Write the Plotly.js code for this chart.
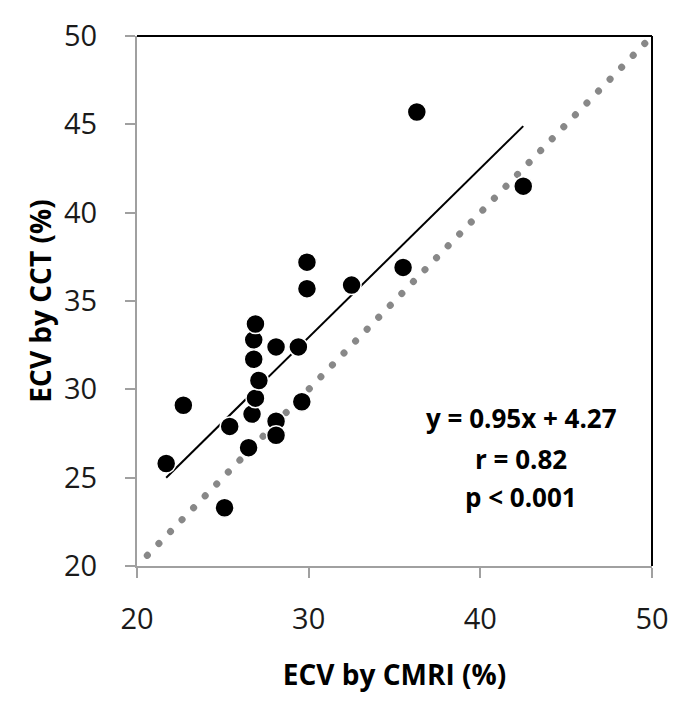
<!DOCTYPE html>
<html>
<head>
<meta charset="utf-8">
<script src="https://cdn.plot.ly/plotly-3.0.1.min.js"></script>
<style>
  body { margin: 0; background: #fff; }
  #chart { width: 692px; height: 707px; }
  .identity .js-line { stroke-linecap: round; }
</style>
</head>
<body>
<div id="chart"></div>
<script>
// ECV by CMRI (%) vs ECV by CCT (%)
const cmri = [21.7, 22.7, 25.1, 25.4, 26.5, 26.7, 26.9, 27.1, 26.8, 26.8, 26.9, 28.1, 28.1, 28.1, 29.4, 29.6, 29.9, 29.9, 32.5, 35.5, 36.3, 42.5];
const cct  = [25.8, 29.1, 23.3, 27.9, 26.7, 28.6, 29.5, 30.5, 31.7, 32.8, 33.7, 32.4, 28.2, 27.4, 32.4, 29.3, 35.7, 37.2, 35.9, 36.9, 45.7, 41.5];

// regression fit line endpoints (y = 0.95x + 4.27)
const fitX = [21.7, 42.5];
const fitY = [25.0, 44.9];

// identity line
const idX = [20.6, 50];
const idY = [20.6, 50];

const xTicks = [20, 30, 40, 50];
const yTicks = [20, 25, 30, 35, 40, 45, 50];

const statLines = ['y = 0.95x + 4.27', 'r = 0.82', 'p < 0.001'];

const FONT = 'Open Sans, DejaVu Sans, sans-serif';

const traces = [
  {
    x: idX, y: idY, mode: 'lines', type: 'scatter',
    line: { color: '#888888', width: 7, dash: '0.1px,16.5px' },
    hoverinfo: 'skip', showlegend: false
  },
  {
    x: fitX, y: fitY, mode: 'lines', type: 'scatter',
    line: { color: '#000', width: 2 },
    hoverinfo: 'skip', showlegend: false
  },
  {
    x: cmri, y: cct, mode: 'markers', type: 'scatter',
    marker: { color: '#000', size: 19, line: { color: '#fff', width: 1.5 } },
    showlegend: false
  }
];

const annotations = statLines.map((t, i) => ({
  xref: 'paper', yref: 'paper',
  x: (521 - 137) / 515, y: (566 - [418, 459, 497][i]) / 530,
  xanchor: 'center', yanchor: 'middle',
  text: '<b>' + t + '</b>', showarrow: false,
  font: { family: FONT, size: 26, color: '#000' }
}));

const layout = {
  width: 692, height: 707,
  margin: { l: 137, r: 40, t: 36, b: 141 },
  paper_bgcolor: '#fff', plot_bgcolor: '#fff',
  font: { family: FONT, color: '#111' },
  showlegend: false,
  xaxis: {
    range: [20, 50], tickvals: xTicks, ticktext: xTicks.map(String),
    showgrid: false, zeroline: false,
    showline: true, linecolor: '#a0a0a0', linewidth: 2,
    ticks: 'outside', ticklen: 10, tickwidth: 2, tickcolor: '#a0a0a0',
    ticklabelstandoff: 16,
    tickfont: { family: FONT, size: 29, color: '#1a1a1a' },
    title: { text: '<b>ECV by CMRI (%)</b>', font: { family: FONT, size: 28, color: '#000' }, standoff: 30 },
    automargin: false
  },
  yaxis: {
    range: [20, 50], tickvals: yTicks, ticktext: yTicks.map(String),
    showgrid: false, zeroline: false,
    showline: true, linecolor: '#a0a0a0', linewidth: 2,
    ticks: 'outside', ticklen: 10, tickwidth: 2, tickcolor: '#a0a0a0',
    ticklabelstandoff: 22,
    tickfont: { family: FONT, size: 29, color: '#1a1a1a' },
    title: { text: '<b>ECV by CCT (%)</b>', font: { family: FONT, size: 28, color: '#000' }, standoff: 4 },
    automargin: false
  },
  shapes: [
    { type: 'line', xref: 'paper', yref: 'paper', x0: 0, x1: 1, y0: 1, y1: 1, line: { color: '#000', width: 2 } },
    { type: 'line', xref: 'paper', yref: 'paper', x0: 1, x1: 1, y0: 0, y1: 1, line: { color: '#000', width: 2 } }
  ],
  annotations: annotations
};

Plotly.newPlot('chart', traces, layout, { staticPlot: true, displayModeBar: false }).then(gd => {
  const lines = gd.querySelectorAll('.scatterlayer .trace');
  if (lines[0]) {
    lines[0].classList.add('identity');
    lines[0].querySelectorAll('path.js-line').forEach(p => p.style.strokeLinecap = 'round');
  }
});
</script>
</body>
</html>
